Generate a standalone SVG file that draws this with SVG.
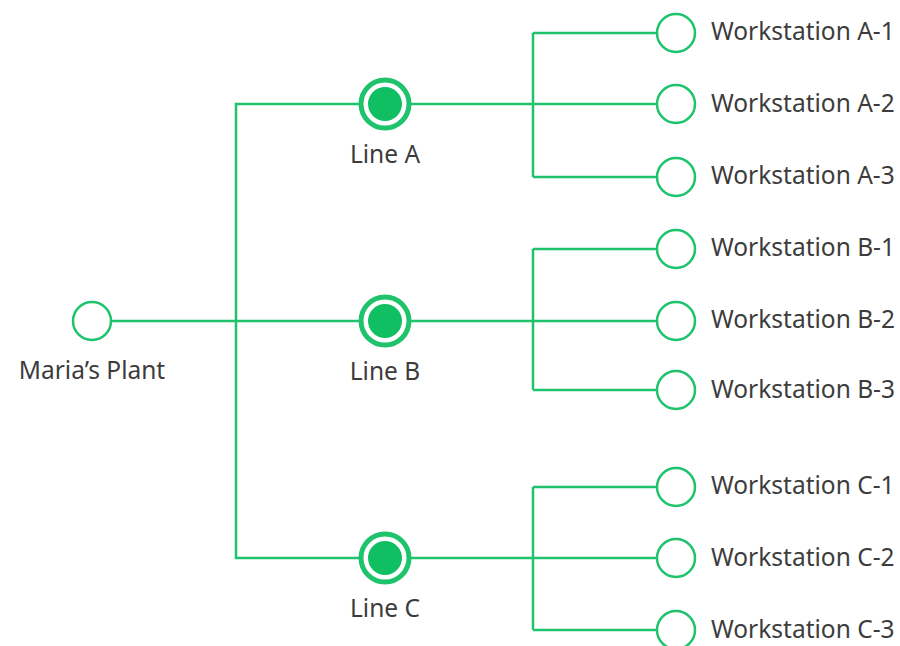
<svg xmlns="http://www.w3.org/2000/svg" width="900" height="646" viewBox="0 0 900 646">
<style>
.c{stroke:#1ec36c;fill:none;stroke-width:2.5}
.n{fill:#fff;stroke:#1ec36c;stroke-width:2.5}
.ring{fill:#fff;stroke:#1ec36c;stroke-width:5}
.dot{fill:#0fbf62}
text{font-family:"Noto Sans","Open Sans",sans-serif;font-size:24.5px;fill:#3c3c3c}
.m{text-anchor:middle}
</style>
<rect width="900" height="646" fill="#fff"/>
<g id="connectors">
<path class="c" d="M111 321H366"/>
<path class="c" d="M366 104H236V558H366"/>
<path class="c" d="M404 104H657M533 33H657M533 177H657M533 33V177"/>
<path class="c" d="M404 321H657M533 249H657M533 390H657M533 249V390"/>
<path class="c" d="M404 558H657M533 487H657M533 630H657M533 487V630"/>
</g>
<g id="plant"><circle class="n" cx="92" cy="321" r="19"/><text class="m" x="92" y="379">Maria’s Plant</text></g>
<g id="lineA"><circle class="ring" cx="385" cy="104" r="24"/><circle class="dot" cx="385" cy="104" r="17"/><text class="m" x="385" y="163">Line A</text></g>
<g id="lineB"><circle class="ring" cx="385" cy="321" r="24"/><circle class="dot" cx="385" cy="321" r="17"/><text class="m" x="385" y="380">Line B</text></g>
<g id="lineC"><circle class="ring" cx="385" cy="558" r="24"/><circle class="dot" cx="385" cy="558" r="17"/><text class="m" x="385" y="617">Line C</text></g>
<g id="wsA1"><circle class="n" cx="676" cy="33" r="19"/><text x="711" y="40">Workstation A-1</text></g>
<g id="wsA2"><circle class="n" cx="676" cy="104" r="19"/><text x="711" y="112">Workstation A-2</text></g>
<g id="wsA3"><circle class="n" cx="676" cy="177" r="19"/><text x="711" y="184">Workstation A-3</text></g>
<g id="wsB1"><circle class="n" cx="676" cy="249" r="19"/><text x="711" y="256">Workstation B-1</text></g>
<g id="wsB2"><circle class="n" cx="676" cy="321" r="19"/><text x="711" y="328">Workstation B-2</text></g>
<g id="wsB3"><circle class="n" cx="676" cy="390" r="19"/><text x="711" y="398">Workstation B-3</text></g>
<g id="wsC1"><circle class="n" cx="676" cy="487" r="19"/><text x="711" y="494">Workstation C-1</text></g>
<g id="wsC2"><circle class="n" cx="676" cy="558" r="19"/><text x="711" y="566">Workstation C-2</text></g>
<g id="wsC3"><circle class="n" cx="676" cy="630" r="19"/><text x="711" y="638">Workstation C-3</text></g>
</svg>
